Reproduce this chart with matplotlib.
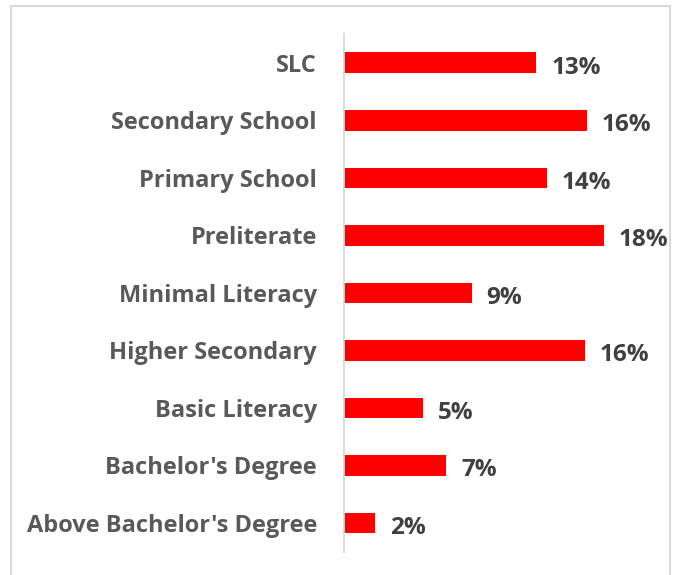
import matplotlib
matplotlib.use("Agg")
import matplotlib.pyplot as plt
from matplotlib.patches import Rectangle

categories = ["SLC", "Secondary School", "Primary School", "Preliterate",
              "Minimal Literacy", "Higher Secondary", "Basic Literacy",
              "Bachelor's Degree", "Above Bachelor's Degree"]
values = [12.99, 16.42, 13.72, 17.55, 8.63, 16.26, 5.34, 6.89, 2.07]
value_labels = ["13%", "16%", "14%", "18%", "9%", "16%", "5%", "7%", "2%"]

W, H = 675, 575
fig = plt.figure(figsize=(W / 100, H / 100), dpi=100)
fig.patch.set_facecolor("white")

# outer chart border (bottom edge lies below the canvas)
bx0, bx1, by_top = 10.5, 669.5, 6.0
fig.patches.append(Rectangle((bx0 / W, -0.05), (bx1 - bx0) / W,
                             1.05 - by_top / H,
                             transform=fig.transFigure, fill=False,
                             edgecolor="#D9D9D9", linewidth=1.5))

left_px, right_px = 344, 655
top_px, bot_px = 34, 551.7
ax = fig.add_axes([left_px / W, 1 - bot_px / H, (right_px - left_px) / W,
                   (bot_px - top_px) / H])
px_per_unit = 14.8
xmax = (right_px - left_px) / px_per_unit

n = len(categories)
ypos = list(range(n))
ax.barh(ypos, values, height=0.357, color="#FF0000", edgecolor="none")
ax.set_ylim(n - 0.5, -0.5)
ax.set_xlim(0, xmax)

for y, v, lab in zip(ypos, values, value_labels):
    ax.text(v + 15 / px_per_unit, y + 0.035, lab, va="center_baseline", ha="left",
            fontsize=17.5, fontweight="bold", color="#404040", family="Open Sans")

ax.set_yticks(ypos)
ax.set_yticklabels(categories, fontsize=17, fontweight="bold",
                   color="#595959", family="Open Sans")
ax.tick_params(axis="y", length=0, pad=19.5)
ax.set_xticks([])
for s in ["top", "right", "bottom"]:
    ax.spines[s].set_visible(False)
ax.spines["left"].set_color("#D9D9D9")
ax.spines["left"].set_linewidth(1.3)

fig.savefig("out.png", dpi=100)
